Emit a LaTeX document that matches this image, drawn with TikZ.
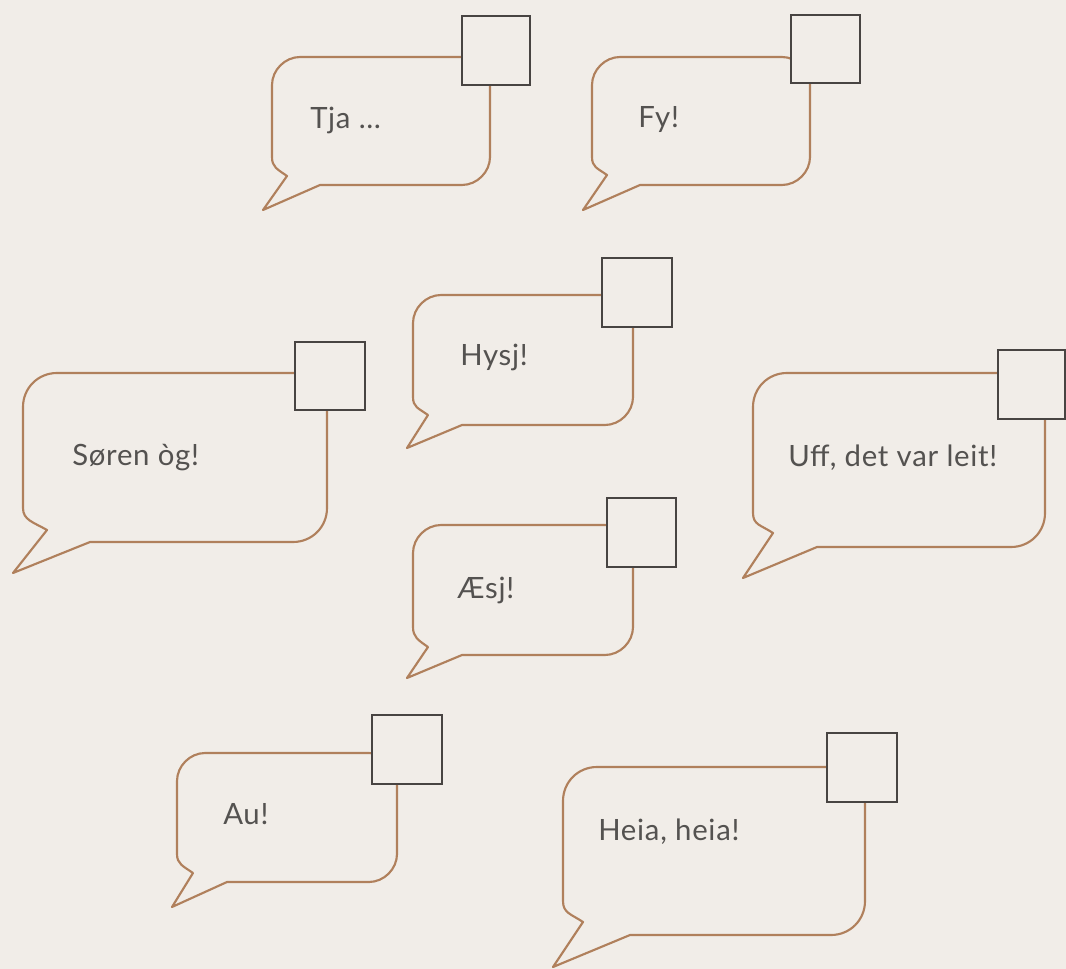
\documentclass[tikz,border=0pt]{standalone}
\usepackage{fontspec}
\setmainfont{Lato}[LetterSpace=2.5]
\usepackage{tikz}

\definecolor{paper}{RGB}{241,237,232}
\definecolor{bubbleline}{RGB}{176,128,92}
\definecolor{boxline}{RGB}{72,68,66}
\definecolor{ink}{RGB}{84,82,80}

\begin{document}
\begin{tikzpicture}[x=0.75pt,y=0.75pt,yscale=-1,
    bubble/.style={draw=bubbleline, line width=1.6pt, line join=round},
    tickbox/.style={draw=boxline, fill=paper, line width=2.2pt},
    saying/.style={anchor=west, inner sep=0pt, text=ink, font=\fontsize{22}{26}\selectfont}]

    %Background
    \fill[paper] (0,0) rectangle (1066,969);
    \useasboundingbox (0,0) rectangle (1066,969);

    %Shape: Bubble [Tja]
    \draw[bubble] (263,210) -- (287,176) .. controls +(-10,-7) and +(0,10) .. (272,157) -- (272,85) .. controls +(0,-15) and +(-15,0) .. (300,57) -- (462,57) .. controls +(15,0) and +(0,-15) .. (490,85) -- (490,157) .. controls +(0,15) and +(15,0) .. (462,185) -- (320,185) -- cycle ;
    %Shape: Square
    \draw[tickbox] (462,16) rectangle (530,85) ;

    %Shape: Bubble [Fy]
    \draw[bubble] (583,210) -- (607,175) .. controls +(-10,-7) and +(0,10) .. (592,157) -- (592,85) .. controls +(0,-15) and +(-15,0) .. (620,57) -- (782,57) .. controls +(15,0) and +(0,-15) .. (810,85) -- (810,157) .. controls +(0,15) and +(15,0) .. (782,185) -- (640,185) -- cycle ;
    %Shape: Square
    \draw[tickbox] (791,15) rectangle (860,83) ;

    %Shape: Bubble [Hysj]
    \draw[bubble] (407,448) -- (428,415) .. controls +(-10,-7) and +(0,10) .. (413,397) -- (413,323) .. controls +(0,-15) and +(-15,0) .. (441,295) -- (605,295) .. controls +(15,0) and +(0,-15) .. (633,323) -- (633,397) .. controls +(0,15) and +(15,0) .. (605,425) -- (462,425) -- cycle ;
    %Shape: Square
    \draw[tickbox] (602,258) rectangle (672,327) ;

    %Shape: Bubble [Soren]
    \draw[bubble] (13,573) -- (47,530) .. controls +(-14,-8) and +(0,12) .. (23,508) -- (23,407) .. controls +(0,-19) and +(-19,0) .. (57,373) -- (293,373) .. controls +(19,0) and +(0,-19) .. (327,407) -- (327,508) .. controls +(0,19) and +(19,0) .. (293,542) -- (90,542) -- cycle ;
    %Shape: Square
    \draw[tickbox] (295,342) rectangle (365,410) ;

    %Shape: Bubble [Uff]
    \draw[bubble] (743,578) -- (773,533) .. controls +(-12,-8) and +(0,12) .. (753,513) -- (753,407) .. controls +(0,-19) and +(-19,0) .. (787,373) -- (1011,373) .. controls +(19,0) and +(0,-19) .. (1045,407) -- (1045,513) .. controls +(0,19) and +(19,0) .. (1011,547) -- (817,547) -- cycle ;
    %Shape: Square
    \draw[tickbox] (998,350) rectangle (1065,419) ;

    %Shape: Bubble [Aesj]
    \draw[bubble] (407,678) -- (428,647) .. controls +(-10,-7) and +(0,10) .. (413,627) -- (413,553) .. controls +(0,-15) and +(-15,0) .. (441,525) -- (605,525) .. controls +(15,0) and +(0,-15) .. (633,553) -- (633,627) .. controls +(0,15) and +(15,0) .. (605,655) -- (462,655) -- cycle ;
    %Shape: Square
    \draw[tickbox] (607,498) rectangle (676,567) ;

    %Shape: Bubble [Au]
    \draw[bubble] (172,907) -- (193,873) .. controls +(-10,-7) and +(0,10) .. (177,854) -- (177,781) .. controls +(0,-15) and +(-15,0) .. (205,753) -- (369,753) .. controls +(15,0) and +(0,-15) .. (397,781) -- (397,854) .. controls +(0,15) and +(15,0) .. (369,882) -- (227,882) -- cycle ;
    %Shape: Square
    \draw[tickbox] (372,715) rectangle (442,784) ;

    %Shape: Bubble [Heia]
    \draw[bubble] (553,967) -- (583,922) .. controls +(-12,-8) and +(0,12) .. (563,901) -- (563,801) .. controls +(0,-19) and +(-19,0) .. (597,767) -- (831,767) .. controls +(19,0) and +(0,-19) .. (865,801) -- (865,901) .. controls +(0,19) and +(19,0) .. (831,935) -- (630,935) -- cycle ;
    %Shape: Square
    \draw[tickbox] (827,733) rectangle (897,802) ;

    % Text Node
    \node[saying] (tja) at (310,120) {Tja …};
    % Text Node
    \node[saying] (fy) at (638,120) {Fy!};
    % Text Node
    \node[saying] (hysj) at (460,357) {Hysj!};
    % Text Node
    \node[saying] (soren) at (72,458) {Søren òg!};
    % Text Node
    \node[saying] (uff) at (788,458) {Uff, det var leit!};
    % Text Node
    \node[saying] (aesj) at (457,590) {Æsj!};
    % Text Node
    \node[saying] (au) at (223,814) {Au!};
    % Text Node
    \node[saying] (heia) at (598,832) {Heia, heia!};

\end{tikzpicture}
\end{document}
